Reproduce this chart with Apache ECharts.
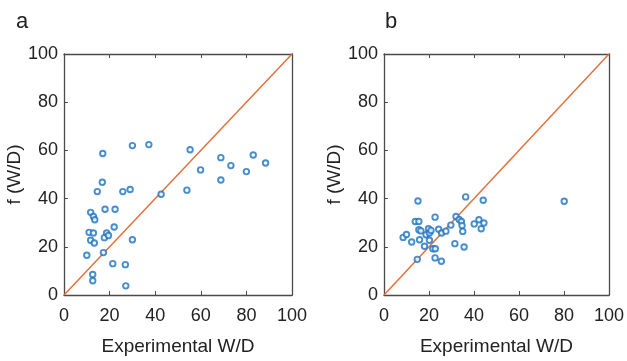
<!DOCTYPE html>
<html><head><meta charset="utf-8">
<script src="https://cdn.jsdelivr.net/npm/echarts@6/dist/echarts.min.js"></script>
<style>html,body{margin:0;padding:0;background:#fff}#c{width:627px;height:361px}</style>
</head><body><div id="c"></div>
<script>
const panelLabels = ['a', 'b'];
const xTicks = [0, 20, 40, 60, 80, 100];
const yTicks = [0, 20, 40, 60, 80, 100];
const xTitle = 'Experimental W/D';
const yTitle = 'f (W/D)';
const idLine = [[0, 0], [100, 100]];
const aX = [10,12.6,12.6,11,12.9,11.7,13.3,11.7,12.9,13.5,14.6,16.8,17,17.3,18,17.7,18.7,19.5,22,22.4,21.4,25.8,29,26.9,27.1,30,30,37.2,42.6,53.9,55.3,59.9,68.8,68.8,73.2,80,83,88.4];
const aY = [16.5,8.5,5.9,26,25.7,22.7,21.6,34.3,32.6,31.2,42.9,46.8,58.7,17.6,35.6,23.8,25.7,24.7,28.2,35.6,13,42.9,43.8,12.6,3.8,22.9,62,62.4,41.8,43.5,60.3,51.9,57,47.7,53.7,51.2,58.1,54.8];
const bX = [8.5,10,12.3,13.9,15.5,15.1,14.8,15.5,16.4,15.8,18,18.7,19.8,20.2,20.9,20.2,21.7,22.8,22.7,22.7,24.3,25.6,27.5,25.5,29.7,32,33.4,34.4,34.7,35,31.5,35.6,36.3,40.1,42.2,43.2,44.4,44.1,80.1];
const bY = [23.9,25.1,22,30.5,30.5,39,14.8,27.1,26.6,22.9,20.2,25,27.5,25.7,26.8,22.7,19.2,19.2,32.3,15.4,27.3,25.7,26.5,14,29,32.6,31.3,30.5,28.8,26.4,21.3,19.9,40.7,29.5,31.2,27.5,29.9,39.3,38.9];

const font = 'Liberation Sans';
const axCol = '#4a4a4a';
const lefts = [64, 384];
const grids = lefts.map(l => ({left: l, top: 54, width: 228, height: 243}));
const xAxes = [], yAxes = [], series = [];
const lineSt = {show: true, onZero: false, lineStyle: {color: axCol, width: 1.3}};
const tickSt = {show: true, inside: true, length: 4, lineStyle: {color: axCol, width: 1}};
[[aX, aY], [bX, bY]].forEach((d, i) => {
  xAxes.push({gridIndex: i, type: 'value', min: 0, max: 100, interval: 20, position: 'bottom',
    name: xTitle, nameLocation: 'middle', nameGap: 42,
    nameTextStyle: {fontFamily: font, fontSize: 19, color: '#222'},
    axisLine: lineSt, axisTick: tickSt,
    axisLabel: {fontFamily: font, fontSize: 18, color: '#222', margin: 12}, splitLine: {show: false}});
  xAxes.push({gridIndex: i, type: 'value', min: 0, max: 100, interval: 20, position: 'top',
    axisLine: lineSt, axisTick: tickSt,
    axisLabel: {show: false}, splitLine: {show: false}});
  yAxes.push({gridIndex: i, type: 'value', min: 0, max: 100, interval: 20, position: 'left',
    name: yTitle, nameLocation: 'middle', nameGap: 38, nameRotate: 90,
    nameTextStyle: {fontFamily: font, fontSize: 19, color: '#222'},
    axisLine: lineSt, axisTick: tickSt,
    axisLabel: {fontFamily: font, fontSize: 18, color: '#222', margin: 6}, splitLine: {show: false}});
  yAxes.push({gridIndex: i, type: 'value', min: 0, max: 100, interval: 20, position: 'right',
    axisLine: lineSt, axisTick: {show: false},
    axisLabel: {show: false}, splitLine: {show: false}});
  series.push({type: 'line', xAxisIndex: 2*i, yAxisIndex: 2*i, data: idLine, symbol: 'none',
    lineStyle: {color: '#E2713C', width: 1.5}, silent: true, z: 2});
  series.push({type: 'scatter', xAxisIndex: 2*i, yAxisIndex: 2*i, data: d[0].map((x, k) => [x, d[1][k]]),
    symbol: 'circle', symbolSize: 5.5,
    itemStyle: {color: '#fff', borderColor: '#1A72C0', borderWidth: 1.9}, z: 3});
});
const chart = echarts.init(document.getElementById('c'), null, {renderer: 'canvas'});
chart.setOption({
  animation: false,
  grid: grids, xAxis: xAxes, yAxis: yAxes, series: series,
  graphic: panelLabels.map((t, i) => ({type: 'text', left: [16, 385][i], top: 11,
    style: {text: t, fontFamily: font, fontSize: 22, fill: '#222'}}))
});
</script></body></html>
